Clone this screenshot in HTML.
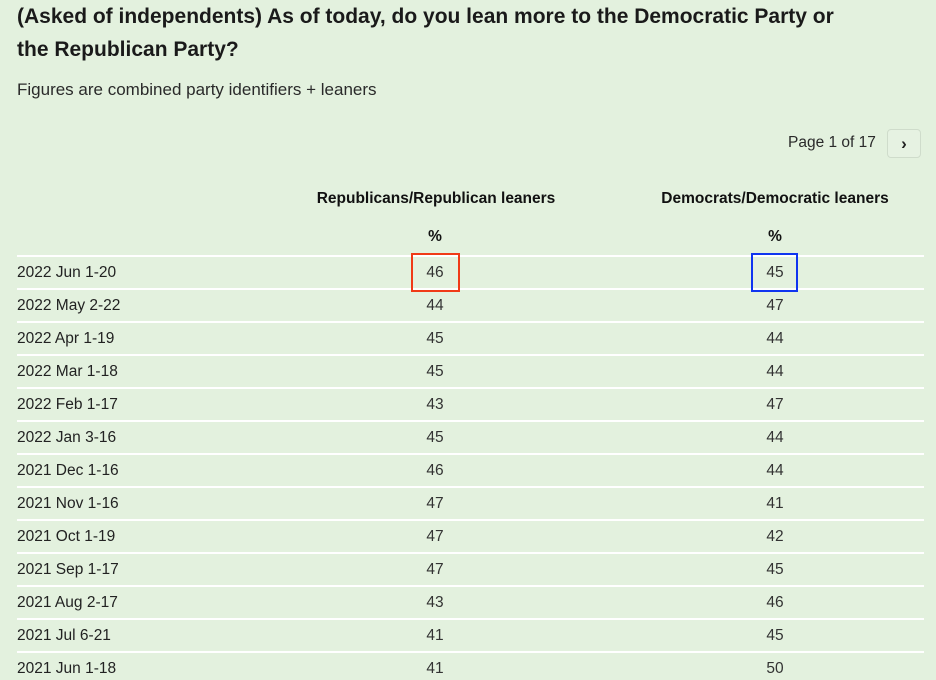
<!DOCTYPE html>
<html><head><meta charset="utf-8"><style>
body{margin:0;width:936px;height:680px;overflow:hidden;background:#e3f1de;font-family:"Liberation Sans",sans-serif;color:#222;position:relative}
.a{position:absolute;white-space:nowrap}
.title{left:17px;top:0px;font-size:21px;font-weight:bold;line-height:33px;color:#1a1a1a}
.sub{left:17px;top:80px;font-size:17px;color:#2a2a2a}
.page{left:788px;top:134px;font-size:15.5px;color:#2a2a2a}
.btn{left:887px;top:129px;width:32px;height:27px;border:1px solid #cfdccb;border-radius:4px;background:#e6f2e2;text-align:center;line-height:27px;font-size:17px;font-weight:bold;color:#222}
.hd{font-size:15.5px;font-weight:bold;transform:translateX(-50%);color:#111}
.line{left:17px;width:907px;height:2px;background:#fff}
.lab{left:17px;font-size:15.5px;transform:translateY(-50%)}
.val{font-size:15.5px;transform:translate(-50%,-50%);color:#333}
.box{border:2px solid;height:35px;z-index:5}
</style></head><body>
<div class="a title">(Asked of independents) As of today, do you lean more to the Democratic Party or<br>the Republican Party?</div>
<div class="a sub">Figures are combined party identifiers + leaners</div>
<div class="a page">Page 1 of 17</div>
<div class="a btn">›</div>
<div class="a hd" style="left:436px;top:190px">Republicans/Republican leaners</div>
<div class="a hd" style="left:775px;top:190px">Democrats/Democratic leaners</div>
<div class="a hd" style="left:435px;top:228px">%</div>
<div class="a hd" style="left:775px;top:228px">%</div>
<div id="tbl"></div>
<div class="a box" style="left:411px;top:253px;width:45px;border-color:#f03a17"></div>
<div class="a box" style="left:751px;top:253px;width:43px;border-color:#1035f0"></div>
<script>
const dates=["2022 Jun 1-20","2022 May 2-22","2022 Apr 1-19","2022 Mar 1-18","2022 Feb 1-17","2022 Jan 3-16","2021 Dec 1-16","2021 Nov 1-16","2021 Oct 1-19","2021 Sep 1-17","2021 Aug 2-17","2021 Jul 6-21","2021 Jun 1-18"];
const repVals=[46,44,45,45,43,45,46,47,47,47,43,41,41];
const demVals=[45,47,44,44,47,44,44,41,42,45,46,45,50];
const t=document.getElementById('tbl');
function rowY(i){return 273+33*i;}
function mk(cls,style,txt){const d=document.createElement('div');d.className='a '+cls;d.setAttribute('style',style);if(txt!==undefined)d.textContent=txt;t.appendChild(d);return d;}
dates.forEach((d,i)=>{
  const y=rowY(i);
  const ln=mk('line','top:'+(y-18)+'px');
  
  
  const lb=mk('lab','top:'+y+'px',d);
  
  
  const r=mk('val','left:435px;top:'+y+'px',repVals[i]);
  
  
  const dm=mk('val','left:775px;top:'+y+'px',demVals[i]);
  
  
});
</script>
</body></html>
